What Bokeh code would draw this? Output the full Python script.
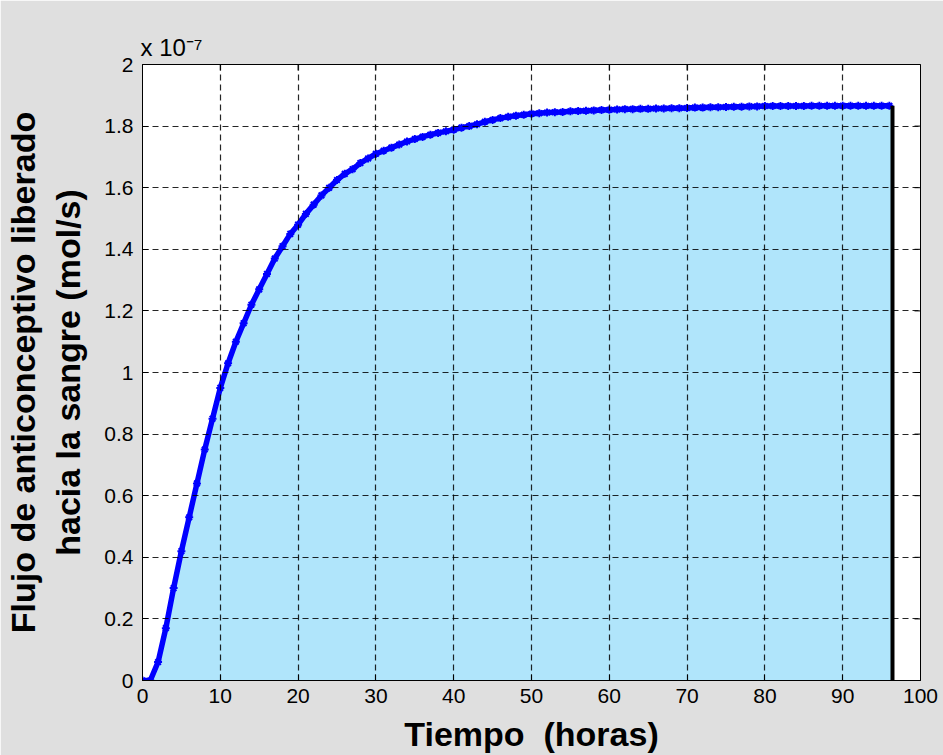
from bokeh.plotting import figure
from bokeh.models import FixedTicker, Range1d, Title
from bokeh.embed import file_html
from bokeh.resources import INLINE
import math

# Time in hours (hourly samples) and released flux, in units of 1e-7 mol/s
tiempo_h = list(range(0, 97))
flujo_e7 = [
    0.00, 0.00, 0.06, 0.17, 0.30, 0.42, 0.53, 0.64, 0.75, 0.85,
    0.95, 1.03, 1.10, 1.16, 1.22, 1.27, 1.32, 1.37, 1.41, 1.45,
    1.48, 1.515, 1.545, 1.575, 1.60, 1.625, 1.645, 1.66, 1.68, 1.695,
    1.71, 1.72, 1.73, 1.74, 1.75, 1.758, 1.765, 1.772, 1.778, 1.783,
    1.788, 1.795, 1.80, 1.806, 1.814, 1.82, 1.826, 1.83, 1.834, 1.837,
    1.84, 1.842, 1.844, 1.845, 1.846, 1.848, 1.849, 1.85, 1.851, 1.852,
    1.853, 1.854, 1.855, 1.855, 1.856, 1.856, 1.857, 1.857, 1.858, 1.858,
    1.859, 1.860, 1.860, 1.861, 1.861, 1.862, 1.863, 1.863, 1.864, 1.864,
    1.865, 1.865, 1.865, 1.865, 1.865, 1.865, 1.866, 1.866, 1.866, 1.866,
    1.866, 1.866, 1.866, 1.866, 1.866, 1.866, 1.866,
]
# End of the integration window (vertical marker)
t_final = 96.4

x_ticks = list(range(0, 101, 10))
y_ticks = [0, 0.2, 0.4, 0.6, 0.8, 1, 1.2, 1.4, 1.6, 1.8, 2]
y_tick_labels = ["0", "0.2", "0.4", "0.6", "0.8", "1", "1.2", "1.4", "1.6", "1.8", "2"]
x_min, x_max = 0, 100
y_min, y_max = 0, 2

FONT = "Liberation Sans"
BG = "#dfdfdf"

# Exponent of the y axis shown as a left-aligned title over the box
exp_title = Title(text="x 10\u207b\u2077", align="left", offset=-2, standoff=7,
                  text_font=FONT, text_font_size="24px", text_font_style="normal",
                  text_color="black")

p = figure(width=943, height=755, output_backend="svg", toolbar_location=None,
           x_range=Range1d(x_min, x_max), y_range=Range1d(y_min, y_max),
           title=exp_title,
           min_border_left=140, min_border_right=23,
           min_border_top=64, min_border_bottom=75)
p.background_fill_color = "white"
p.border_fill_color = BG
p.outline_line_color = "black"
p.outline_line_width = 1

# Shaded area under the curve up to the end of the window
area_t = tiempo_h + [t_final]
area_v = flujo_e7 + [flujo_e7[-1]]
p.varea(x=area_t, y1=[0] * len(area_t), y2=area_v, fill_color="#b0e5fb")

# Flux curve with star markers
p.line(tiempo_h, flujo_e7, line_color="#0000ff", line_width=5.5)
p.scatter(tiempo_h, flujo_e7, marker="asterisk", size=8, line_color="#0000ff",
          line_width=2)

# Vertical line closing the shaded region
p.segment(x0=[t_final], y0=[0], x1=[t_final], y1=[flujo_e7[-1]],
          line_color="black", line_width=4)

# Axes
xt = FixedTicker(ticks=x_ticks)
yt = FixedTicker(ticks=y_ticks)

p.xaxis.ticker = xt
p.yaxis.ticker = yt
p.yaxis.major_label_overrides = {t: s for t, s in zip(y_ticks, y_tick_labels)}

for ax in p.xaxis + p.yaxis:
    ax.major_tick_in = 6
    ax.major_tick_out = 0
    ax.minor_tick_in = 0
    ax.minor_tick_out = 0
    ax.axis_line_color = "black"
    ax.major_tick_line_color = "black"
    ax.major_label_text_font = FONT
    ax.major_label_text_font_size = "21px"
    ax.major_label_text_color = "black"
    ax.axis_label_text_font = FONT
    ax.axis_label_text_font_size = "34px"
    ax.axis_label_text_font_style = "bold"
    ax.axis_label_text_color = "black"

p.xaxis.major_label_standoff = 8
p.yaxis.major_label_standoff = 9
p.xaxis.axis_label = "Tiempo \u00a0(horas)"
p.xaxis.axis_label_standoff = 9
p.yaxis.axis_label = "Flujo de anticonceptivo liberado\nhacia la sangre (mol/s)"
p.yaxis.axis_label_standoff = 14

# Inward ticks on the top and right sides of the box
p.scatter(x_ticks, [y_max] * len(x_ticks), marker="dash", size=12,
          angle=math.pi / 2, line_color="black", line_width=1)
p.scatter([x_max] * len(y_ticks), y_ticks, marker="dash", size=12,
          line_color="black", line_width=1)

# Dashed grid drawn over the shaded area
p.xgrid.ticker = xt
p.ygrid.ticker = yt
for g in p.xgrid + p.ygrid:
    g.grid_line_color = "black"
    g.grid_line_alpha = 0.85
    g.grid_line_dash = "6 4"
    g.grid_line_width = 1.2
    g.level = "overlay"

open("out.html", "w").write(file_html(p, INLINE))
